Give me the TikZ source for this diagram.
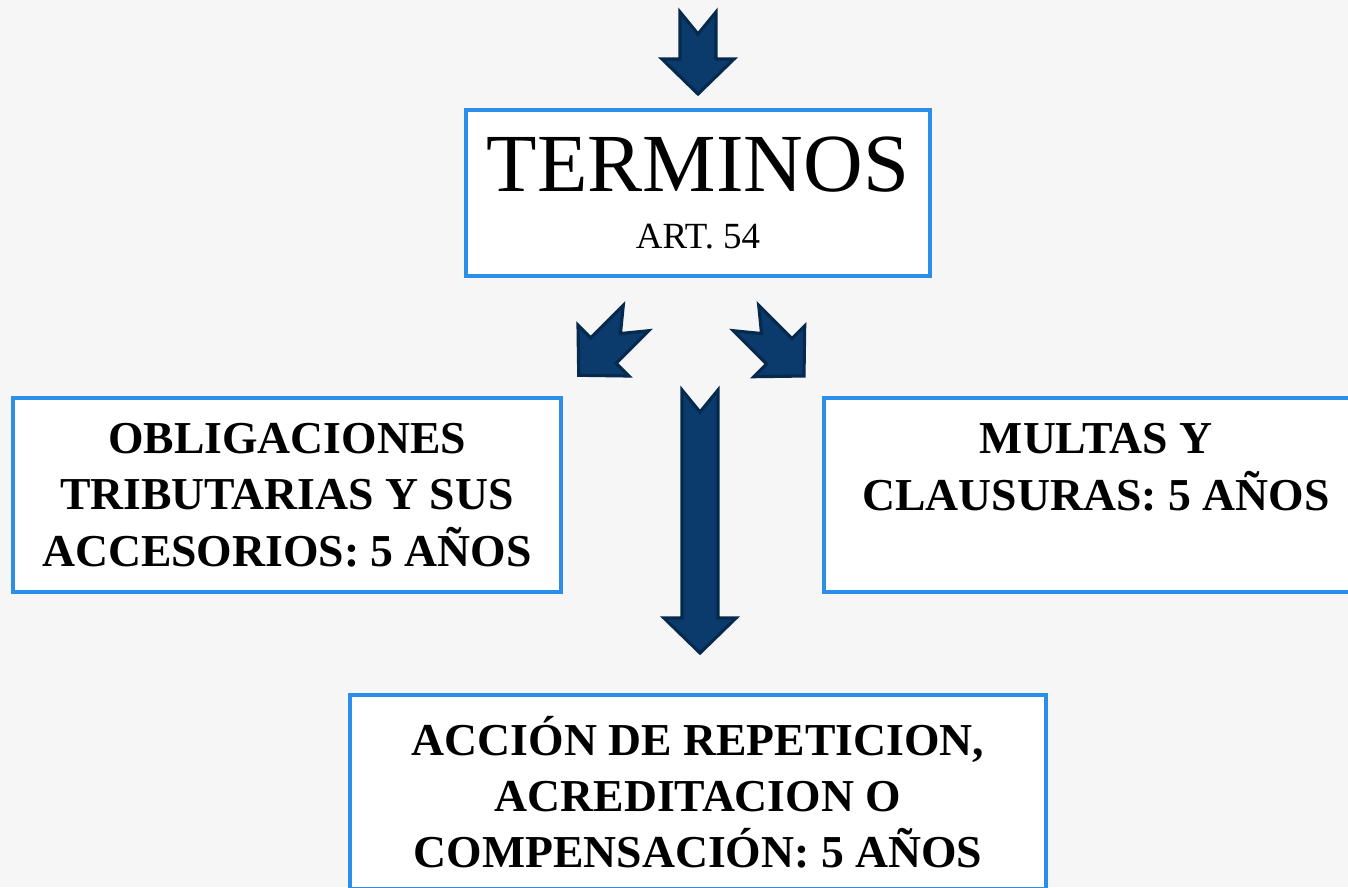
\documentclass[tikz,border=0pt]{standalone}
\usepackage{fontspec}
\setmainfont{Liberation Serif}

\definecolor{bgcol}{HTML}{F6F6F6}
\definecolor{boxblue}{HTML}{2B8FE9}
\definecolor{arrowfill}{HTML}{0B3B6C}
\definecolor{arrowline}{HTML}{06294E}

\tikzset{
  termbox/.style={draw=boxblue, line width=2.3pt, fill=white, align=center, inner sep=0pt},
  boldbox/.style={termbox, font=\fontsize{26}{32}\selectfont\bfseries,
    minimum height=3.88cm},
  blockarrow/.style={fill=arrowfill, draw=arrowline, line width=1.8pt, line join=miter}
}

% tail x, tail y, angle, length
\newcommand{\bluearrow}[4]{%
  \draw[blockarrow, shift={(#1,#2)}, rotate=#3]
    (0,18) -- (22,0) -- (0,-18) -- (#4-35,-18) -- (#4-35,-36)
    -- (#4,0) -- (#4-35,36) -- (#4-35,18) -- cycle;}

\begin{document}
\begin{tikzpicture}[x=0.02cm,y=-0.02cm]
  \useasboundingbox (0,0) rectangle (1348,887);
  \clip (0,0) rectangle (1348,887);
  \fill[bgcol] (0,0) rectangle (1348,887);

  \bluearrow{698}{12}{-90}{82}

  \node[termbox, minimum width=9.28cm, minimum height=3.32cm,
    font=\fontsize{21}{32}\selectfont] (terminos) at (698,193)
    {{\fontsize{47}{50}\selectfont TERMINOS}\\ART. 54};

  \bluearrow{636}{318}{-135}{81}
  \bluearrow{746}{318}{-45}{82}

  \node[boldbox, minimum width=10.96cm] (obligaciones) at (287,495)
    {OBLIGACIONES\\TRIBUTARIAS Y SUS\\ACCESORIOS: 5 AÑOS};
  \node[boldbox, minimum width=10.88cm] (multas) at (1096,495)
    {MULTAS Y\\CLAUSURAS: 5 AÑOS\\~};

  \bluearrow{700}{390}{-90}{263}

  \node[boldbox, minimum width=13.92cm] (accion) at (698,792)
    {ACCIÓN DE REPETICION,\\ACREDITACION O\\COMPENSACIÓN: 5 AÑOS};
\end{tikzpicture}
\end{document}
